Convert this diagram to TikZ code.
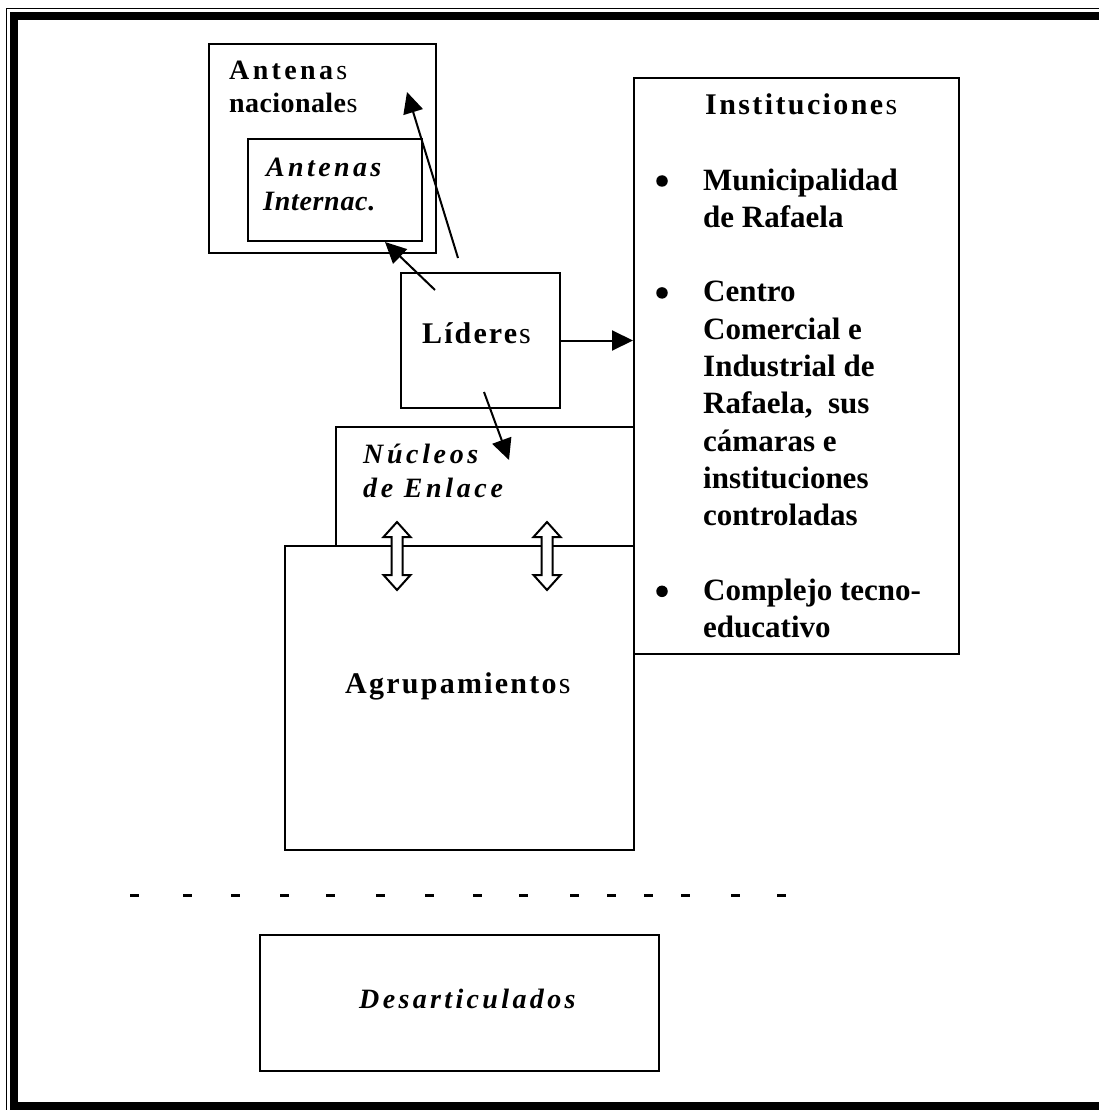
\documentclass[tikz,border=0pt]{standalone}
\usepackage{fontspec}
\setmainfont{Liberation Serif}
\usetikzlibrary{arrows.meta}
\begin{document}
\begin{tikzpicture}[x=1pt,y=-1pt,
  box/.style={draw, line width=2pt, fill=white, inner sep=0pt, anchor=north west},
  lbl/.style={anchor=base west, inner sep=0pt},
  itemtext/.style={anchor=base west, inner sep=0pt, align=left, font=\fontsize{31}{37.3}\selectfont\bfseries},
  bulletdot/.style={circle, fill=black, inner sep=0pt, minimum size=11.5pt},
  conn/.style={line width=2pt, -{Triangle[length=21pt,width=20pt]}},
  hollow/.style={draw, line width=2pt, fill=white, line join=miter},
  dashmark/.style={line width=3pt}]
\useasboundingbox (0,0) rectangle (1099,1110);
\clip (0,0) rectangle (1099,1110);
\fill[white] (0,0) rectangle (1099,1110);
% page frame
\draw[line width=1.5pt] (6.5,8.5) rectangle (1130,1125);
\draw[line width=8pt] (14,16) rectangle (1112,1106);

% boxes
\node[box, minimum width=227pt, minimum height=209pt] (nac) at (208,43) {};
\node[box, minimum width=174pt, minimum height=102pt] (intl) at (247,138) {};
\node[box, minimum width=159pt, minimum height=135pt] (lid) at (400,272) {};
\node[box, minimum width=325pt, minimum height=576pt] (inst) at (633,77) {};
\node[box, minimum width=298pt, minimum height=119pt] (nuc) at (335,426) {};
\node[box, minimum width=349pt, minimum height=304pt] (agr) at (284,545) {};
\node[box, minimum width=399pt, minimum height=136pt] (des) at (259,934) {};

% labels
\node[lbl, font=\fontsize{28}{33}\selectfont\bfseries\addfontfeature{LetterSpace=12}] (tnac1) at (229,80) {Antena\textmd{s}};
\node[lbl, font=\fontsize{28}{33}\selectfont\bfseries\addfontfeature{LetterSpace=1.5}] (tnac2) at (229,113) {nacionale\textmd{s}};
\node[lbl, font=\fontsize{28}{33}\selectfont\bfseries\itshape\addfontfeature{LetterSpace=12}] (tint1) at (266,177) {Antenas};
\node[lbl, font=\fontsize{28}{33}\selectfont\bfseries\itshape\addfontfeature{LetterSpace=2.5}] (tint2) at (263,210) {Internac.};
\node[lbl, font=\fontsize{30}{36}\selectfont\bfseries\addfontfeature{LetterSpace=7}] (tlid) at (422,343) {Lídere\textmd{s}};
\node[lbl, font=\fontsize{30}{36}\selectfont\bfseries\addfontfeature{LetterSpace=8}] (tinst) at (705,115) {Institucione\textmd{s}};
\node[lbl, font=\fontsize{28}{33}\selectfont\bfseries\itshape\addfontfeature{LetterSpace=13}] (tnuc1) at (363,463) {Núcleos};
\node[lbl, font=\fontsize{28}{33}\selectfont\bfseries\itshape\addfontfeature{LetterSpace=13}] (tnuc2) at (363,497) {de Enlace};
\node[lbl, font=\fontsize{30}{36}\selectfont\bfseries\addfontfeature{LetterSpace=7.5}] (tagr) at (345,693) {Agrupamiento\textmd{s}};
\node[lbl, font=\fontsize{28}{33}\selectfont\bfseries\itshape\addfontfeature{LetterSpace=12}] (tdes) at (359,1008) {Desarticulados};

% list of institutions (node base = baseline of last line)
\node[bulletdot] (b1) at (662,181) {};
\node[itemtext] (i1) at (703,227.3) {Municipalidad\\de Rafaela};
\node[bulletdot] (b2) at (662,292.9) {};
\node[itemtext] (i2) at (703,525.7) {Centro\\Comercial e\\Industrial de\\Rafaela,\ \ sus\\cámaras e\\instituciones\\controladas};
\node[bulletdot] (b3) at (662,591.3) {};
\node[itemtext] (i3) at (703,637.6) {Complejo tecno-\\educativo};

% connectors
\coordinate (a1s) at (458,258); \coordinate (a1e) at (407,92);
\coordinate (a2s) at (435,290); \coordinate (a2e) at (385,242);
\coordinate (a4s) at (484,392); \coordinate (a4e) at (509,460);
\draw[conn] (a1s) -- (a1e);
\draw[conn] (a2s) -- (a2e);
\draw[conn] (lid.east) -- (lid.east -| inst.west);
\draw[conn] (a4s) -- (a4e);

% hollow double arrows between Nucleos and Agrupamientos
\coordinate (dl) at (397,556);
\coordinate (dr) at (547,556);
\foreach \n in {dl,dr}{
  \draw[hollow] ([yshift=34pt]\n) -- ++(13.5,15) -- ++(-8,0) -- ++(0,38) -- ++(8,0)
    -- ++(-13.5,15) -- ++(-13.5,-15) -- ++(8,0) -- ++(0,-38) -- ++(-8,0) -- cycle;
}

% dashed separator
\foreach \dx in {134.5,187.5,235.5,284.5,330.5,380.5,429.5,477.5,523.5,574.5,611.5,648.5,685.5,735.5,781.5}{
  \draw[dashmark] (\dx-4.5,895) -- (\dx+4.5,895);
}
\end{tikzpicture}
\end{document}
